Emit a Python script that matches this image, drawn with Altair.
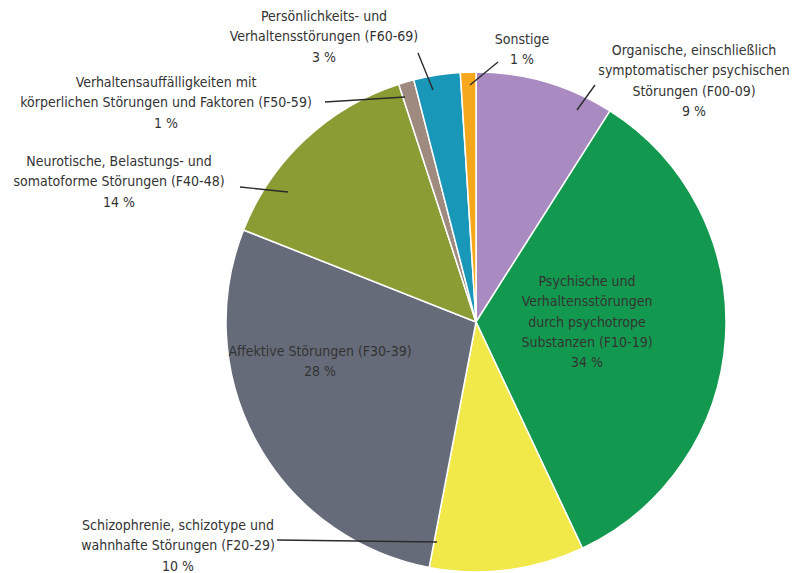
import altair as alt
import pandas as pd

# ---- data ----
categories = [
    "Organische, einschließlich symptomatischer psychischer Störungen (F00-09)",
    "Psychische und Verhaltensstörungen durch psychotrope Substanzen (F10-19)",
    "Schizophrenie, schizotype und wahnhafte Störungen (F20-29)",
    "Affektive Störungen (F30-39)",
    "Neurotische, Belastungs- und somatoforme Störungen (F40-48)",
    "Verhaltensauffälligkeiten mit körperlichen Störungen und Faktoren (F50-59)",
    "Persönlichkeits- und Verhaltensstörungen (F60-69)",
    "Sonstige",
]
values = [9, 34, 10, 28, 14, 1, 3, 1]
label_texts = [
    ["Organische, einschließlich", "symptomatischer psychischen", "Störungen (F00-09)", "9 %"],
    ["Psychische und", "Verhaltensstörungen", "durch psychotrope", "Substanzen (F10-19)", "34 %"],
    ["Schizophrenie, schizotype und", "wahnhafte Störungen (F20-29)", "10 %"],
    ["Affektive Störungen (F30-39)", "28 %"],
    ["Neurotische, Belastungs- und", "somatoforme Störungen (F40-48)", "14 %"],
    ["Verhaltensauffälligkeiten mit", "körperlichen Störungen und Faktoren (F50-59)", "1 %"],
    ["Persönlichkeits- und", "Verhaltensstörungen (F60-69)", "3 %"],
    ["Sonstige", "1 %"],
]
colors = ["#a98bc2", "#13994f", "#f1e84a", "#666b79", "#8b9c34", "#9e8a7f", "#1997b8", "#f6a81c"]

# ---- layout (page pixel positions of annotations; y = first text line) ----
label_x = [694, 587, 178, 320, 119, 166, 324, 522]
label_y = [51, 282, 526, 352, 162, 83, 17, 40]
leader_x1 = [595, 277, 240, 325, 418, 498]
leader_y1 = [85, 540, 187, 102, 53, 62]
leader_x2 = [577, 437, 288, 405, 433, 470]
leader_y2 = [110, 542, 192, 97, 90, 85]

W, H = 784, 565
CX, CY, R = 468, 314, 250
FONT = "Liberation Sans Narrow, DejaVu Sans Condensed, sans-serif"
TXT = "#333333"

pie_df = pd.DataFrame({"cat": categories, "value": values, "idx": list(range(len(values)))})
lab_df = pd.DataFrame({"text": label_texts, "x": label_x, "y": label_y})
lead_df = pd.DataFrame({
    "x": leader_x1, "y": leader_y1, "x2": leader_x2, "y2": leader_y2,
})

xs = alt.Scale(domain=[8, 8 + W], range=[0, W])
ys = alt.Scale(domain=[8, 8 + H], range=[0, H])

pie = alt.Chart(pie_df).mark_arc(outerRadius=R, stroke="white", strokeWidth=1.5).encode(
    theta=alt.Theta("value:Q", stack=True),
    color=alt.Color("cat:N", scale=alt.Scale(domain=categories, range=colors), legend=None),
    order=alt.Order("idx:Q"),
    x=alt.value(CX),
    y=alt.value(CY),
)

leaders = alt.Chart(lead_df).mark_rule(color="#2b2b2b", strokeWidth=1.4).encode(
    x=alt.X("x:Q", scale=xs, axis=None),
    y=alt.Y("y:Q", scale=ys, axis=None),
    x2="x2:Q",
    y2="y2:Q",
)

labels = alt.Chart(lab_df).mark_text(
    font=FONT, fontSize=14, color=TXT, align="center", baseline="middle", lineHeight=20.3
).encode(
    x=alt.X("x:Q", scale=xs, axis=None),
    y=alt.Y("y:Q", scale=ys, axis=None),
    text="text",
)

chart = alt.layer(pie, leaders, labels).properties(
    width=W, height=H, padding=0, autosize="none"
).configure_view(stroke=None)

chart.save("out.html", embed_options={"renderer": "svg", "actions": False})
